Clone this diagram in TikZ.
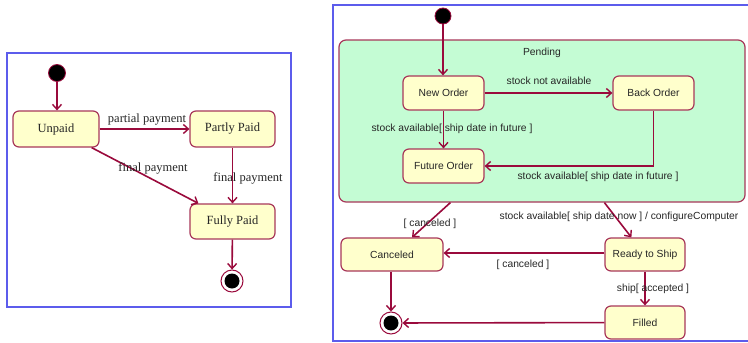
\documentclass[tikz,border=0pt]{standalone}
\usepackage{fontspec}
\setmainfont{Liberation Serif}
\newfontfamily\uisans{Liberation Sans}
\usetikzlibrary{arrows.meta,calc}
\definecolor{edgered}{HTML}{9A0A3C}
\definecolor{boxline}{HTML}{A8385A}
\definecolor{boxfill}{HTML}{FFFFCC}
\definecolor{compfill}{HTML}{C4FCD4}
\definecolor{framebl}{HTML}{5C5CEC}
\tikzset{
  statebox/.style={draw=boxline, fill=boxfill, line width=1.2pt, rounded corners=6pt,
    inner sep=0pt, align=center},
  initdot/.style={circle, fill=black, draw=edgered, line width=0.8pt, inner sep=0pt, minimum size=17pt},
  finaldot/.style={circle, draw=edgered, fill=white, line width=1pt, inner sep=0pt, minimum size=22pt,
    path picture={\fill[black] (path picture bounding box.center) circle (7.5pt);}},
  trans/.style={draw=edgered, line width=1.6pt,
    -{Straight Barb[length=5pt,width=9pt,line width=1.4pt]}},
  serlab/.style={font=\fontsize{12.5}{14}\selectfont, text=black!85, inner sep=0pt},
  sanlab/.style={font=\uisans\fontsize{10.3}{12}\selectfont, text=black!85, inner sep=0pt},
  umlframe/.style={draw=framebl, line width=1.05pt}
}
\begin{document}
\begin{tikzpicture}[x=1pt,y=-1pt]
\useasboundingbox (0,0) rectangle (748,343);
\fill[white] (0,0) rectangle (748,343);

% ---- payment state machine ----
\draw[umlframe] (7,53) rectangle (291,307);
\node[initdot] (init1) at (57,73) {};
\node[statebox, serlab, minimum width=86pt, minimum height=36pt] (unpaid) at (56,129) {Unpaid};
\node[statebox, serlab, minimum width=85pt, minimum height=36pt] (partly) at (232.5,129) {Partly Paid};
\node[statebox, serlab, minimum width=85pt, minimum height=35pt] (fully) at (232.5,221.5) {Fully Paid};
\node[finaldot] (final1) at (232,281) {};

\draw[trans] (init1) -- (init1 |- unpaid.north);
\draw[trans] (unpaid) -- (partly);
\draw[trans] ($(unpaid.south east)+(-8,0)$) -- ($(fully.north west)+(9,0)$);
\draw[trans] (partly) -- (fully);
\draw[trans] (fully) -- (final1);

\node[serlab] (lpartial) at (147,120) {partial payment};
\node[serlab] (lfinal1) at (153,168) {final payment};
\node[serlab] (lfinal2) at (248,178) {final payment};

% ---- order state machine ----
\draw[umlframe] (748,5) -- (333,5) -- (333,341) -- (748,341);
\node[initdot, minimum size=16pt] (init2) at (443,16) {};
\node[draw=boxline, fill=compfill, line width=1.2pt, rounded corners=7pt,
      minimum width=406pt, minimum height=162pt, inner sep=0pt] (pending) at (542,121) {};
\node[sanlab] (lpending) at (542,53) {Pending};

\node[statebox, sanlab, minimum width=81pt, minimum height=34pt] (neworder) at (443.5,93) {New Order};
\node[statebox, sanlab, minimum width=81pt, minimum height=34pt] (backorder) at (653.5,93) {Back Order};
\node[statebox, sanlab, minimum width=81pt, minimum height=34pt] (future) at (443.5,166) {Future Order};
\node[statebox, sanlab, minimum width=102pt, minimum height=33pt] (canceled) at (392,254.5) {Canceled};
\node[statebox, sanlab, minimum width=80pt, minimum height=33pt] (ready) at (645,254.5) {Ready to Ship};
\node[statebox, sanlab, minimum width=80pt, minimum height=33pt] (filled) at (645,322.5) {Filled};
\node[finaldot] (final2) at (391,323) {};

\draw[trans] (init2) -- (init2 |- neworder.north);
\draw[trans] (neworder) -- (backorder);
\draw[trans] (neworder) -- (future);
\draw[trans] (backorder.south) |- (future.east);
\draw[trans] ($(pending.south west)+(112,0)$) -- ($(canceled.north)+(20,0)$);
\draw[trans] ($(pending.south west)+(266,0)$) -- ($(ready.north west)+(27,0)$);
\draw[trans] (ready.west |- 0,253) -- (canceled.east |- 0,253);
\draw[trans] (ready) -- (filled);
\draw[trans] (canceled.south -| final2) -- (final2);
\draw[trans] (filled) -- (final2);

\node[sanlab] (lnotavail) at (549,81) {stock not available};
\node[sanlab] (lfut1) at (452,129) {stock available[ ship date in future ]};
\node[sanlab] (lfut2) at (598,177) {stock available[ ship date in future ]};
\node[sanlab] (lcanc1) at (430,224) {[ canceled ]};
\node[sanlab] (lnow) at (619,217) {stock available[ ship date now ] / configureComputer};
\node[sanlab] (lcanc2) at (523,265) {[ canceled ]};
\node[sanlab] (lship) at (653,289) {ship[ accepted ]};
\end{tikzpicture}
\end{document}
